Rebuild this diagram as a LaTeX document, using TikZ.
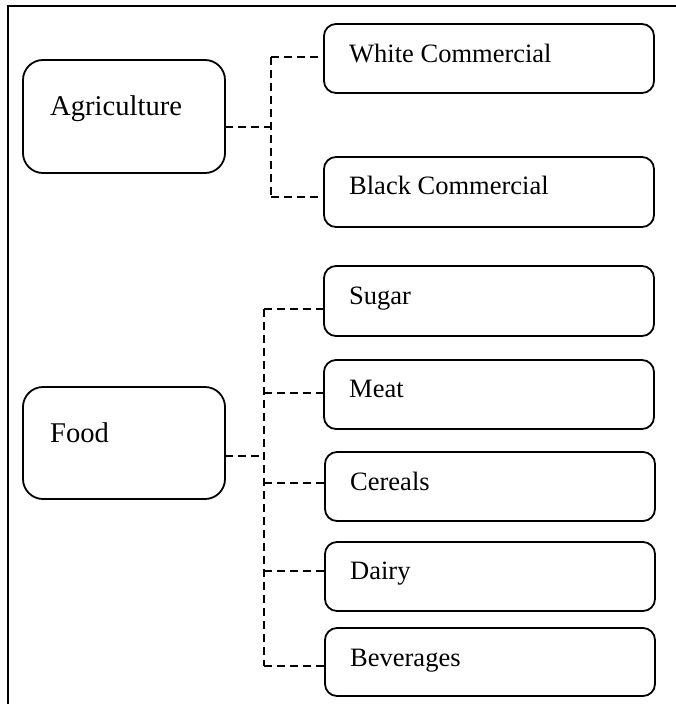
\documentclass[tikz,border=0pt]{standalone}
\usepackage{fontspec}
\setmainfont{Liberation Serif}
\begin{document}
\begin{tikzpicture}[x=1pt,y=-1pt,
  bigbox/.style={draw=black,line width=1.8pt,rounded corners=20pt,minimum width=202pt,minimum height=113pt,inner sep=0pt,outer sep=0pt},
  smallbox/.style={draw=black,line width=1.8pt,rounded corners=12pt,minimum width=330pt,minimum height=69pt,inner sep=0pt,outer sep=0pt},
  lbl/.style={anchor=base west,inner sep=0pt,font=\fontsize{26.5pt}{31pt}\selectfont},
  biglbl/.style={anchor=base west,inner sep=0pt,font=\fontsize{28.6pt}{34pt}\selectfont},
  conn/.style={draw=black,line width=1.6pt,dash pattern=on 8pt off 5pt},
  frame/.style={draw=black,line width=2.2pt}]
\useasboundingbox (0,0) rectangle (676,704);
% frame
\coordinate (fb) at (8,704);
\coordinate (fc) at (8,6);
\coordinate (fr) at (676,6);
\draw[frame] (fb) -- (fc) -- (fr);
% boxes
\node[bigbox] (agri) at (124,116.5) {};
\node[bigbox,minimum height=112pt] (food) at (124,443) {};
\node[smallbox] (wc) at (489,58.5) {};
\node[smallbox,minimum height=70pt] (bc) at (489,192) {};
\node[smallbox,minimum height=70pt] (sugar) at (489,301) {};
\node[smallbox] (meat) at (489,394.5) {};
\node[smallbox] (cereals) at (490,486.5) {};
\node[smallbox] (dairy) at (490,576.5) {};
\node[smallbox,minimum height=68pt] (bev) at (490,662) {};
% labels
\node[biglbl] (agrit) at ([xshift=27pt,yshift=-55pt]agri.north west) {Agriculture};
\node[biglbl] (foodt) at ([xshift=27pt,yshift=-55pt]food.north west) {Food};
\node[lbl] (wct) at ([xshift=25pt,yshift=-38pt]wc.north west) {White Commercial};
\node[lbl] (bct) at ([xshift=25pt,yshift=-37pt]bc.north west) {Black Commercial};
\node[lbl] (sugart) at ([xshift=25pt,yshift=-38pt]sugar.north west) {Sugar};
\node[lbl] (meatt) at ([xshift=25pt,yshift=-37pt]meat.north west) {Meat};
\node[lbl] (cerealst) at ([xshift=25pt,yshift=-38pt]cereals.north west) {Cereals};
\node[lbl] (dairyt) at ([xshift=25pt,yshift=-37pt]dairy.north west) {Dairy};
\node[lbl] (bevt) at ([xshift=25pt,yshift=-38pt]bev.north west) {Beverages};
% agriculture connectors
\coordinate (aj) at (271,127);
\coordinate (at) at (271,57);
\coordinate (ab) at (271,197);
\draw[conn] (agri.east |- aj) -- (aj);
\draw[conn] (at) -- (ab);
\draw[conn] (at) -- (wc.west |- at);
\draw[conn] (ab) -- (bc.west |- ab);
% food connectors
\coordinate (fj) at (264,456);
\coordinate (ft) at (264,309);
\coordinate (fbt) at (264,666);
\draw[conn] (food.east |- fj) -- (fj);
\draw[conn] (ft) -- (fbt);
\draw[conn] (ft) -- (sugar.west |- ft);
\coordinate (mj) at (264,393);
\draw[conn] (mj) -- (meat.west |- mj);
\coordinate (cj) at (264,483);
\draw[conn] (cj) -- (cereals.west |- cj);
\coordinate (dj) at (264,571);
\draw[conn] (dj) -- (dairy.west |- dj);
\draw[conn] (fbt) -- (bev.west |- fbt);
\end{tikzpicture}
\end{document}
